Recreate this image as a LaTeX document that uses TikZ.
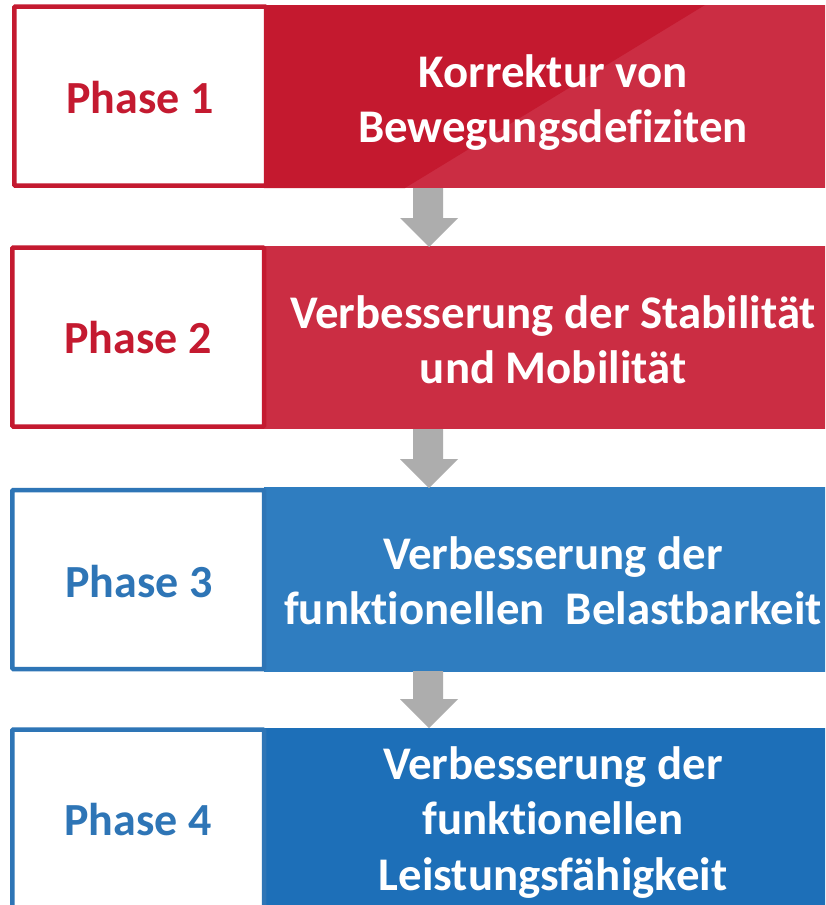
\documentclass[tikz,border=0pt]{standalone}
\usepackage{fontspec}
\setmainfont{Carlito}[Ligatures=NoCommon]
\definecolor{redA}{HTML}{CB2D43}
\definecolor{redB}{HTML}{C4192F}
\definecolor{redT}{HTML}{C41A30}
\definecolor{blueA}{HTML}{2F7DC0}
\definecolor{blueB}{HTML}{1D6FB8}
\definecolor{blueT}{HTML}{2E75B6}
\definecolor{arrowgray}{HTML}{ADADAD}
\tikzset{
  phasebox/.style={draw=#1, fill=white, line width=4.5pt, rounded corners=1pt},
  phaselabel/.style={text=#1, font=\fontsize{46}{56}\selectfont\bfseries, anchor=center, inner sep=0pt},
  goallabel/.style={text=white, font=\fontsize{46.8}{55.5}\selectfont\bfseries, align=center, anchor=center, inner sep=0pt},
  downarrow/.style={fill=arrowgray, draw=none}
}
\begin{document}
\begin{tikzpicture}[x=1pt,y=-1pt]
\useasboundingbox (0,0) rectangle (825,905);
\clip (0,0) rectangle (825,905);
\fill[white] (0,0) rectangle (825,905);

% Row 1
\fill[redA] (264,5) rectangle (841,188);
\fill[redB] (264,5) -- (705,5) -- (405,188) -- (264,188) -- cycle;
\draw[phasebox=redT] (14.3,6.5) rectangle (266,185.7);
\node[phaselabel=redT] (p1) at (140,98) {Phase 1};
\node[goallabel] (g1) at (553,102.5) {Korrektur von\\Bewegungsdefiziten};

% Row 2
\fill[redA] (264,246) rectangle (841,429);
\draw[phasebox=redT] (12.3,247.5) rectangle (264,426.5);
\node[phaselabel=redT] (p2) at (138,338) {Phase 2};
\node[goallabel] (g2) at (553,339.5) {Verbesserung der Stabilität\\und Mobilität};

% Row 3
\fill[blueA] (264,487) rectangle (841,672);
\draw[phasebox=blueT] (12.3,490) rectangle (264,669);
\node[phaselabel=blueT] (p3) at (139,582) {Phase 3};
\node[goallabel] (g3) at (553,580.5) {Verbesserung der\\funktionellen\ \ Belastbarkeit};

% Row 4
\fill[blueB] (264,728) rectangle (841,915);
\draw[phasebox=blueT] (12.3,729.5) rectangle (264,912);
\node[phaselabel=blueT] (p4) at (138,820) {Phase 4};
\node[goallabel] (g4) at (553,822.5) {Verbesserung der\\funktionellen\\Leistungsfähigkeit};

% Arrows
\foreach \top/\tip in {188/247, 429/488, 671/728}{
  \fill[downarrow] (413,\top) -- (443,\top) -- (443,\tip-29) -- (458,\tip-29)
     -- (429,\tip) -- (400,\tip-29) -- (413,\tip-29) -- cycle;
}
\end{tikzpicture}
\end{document}
